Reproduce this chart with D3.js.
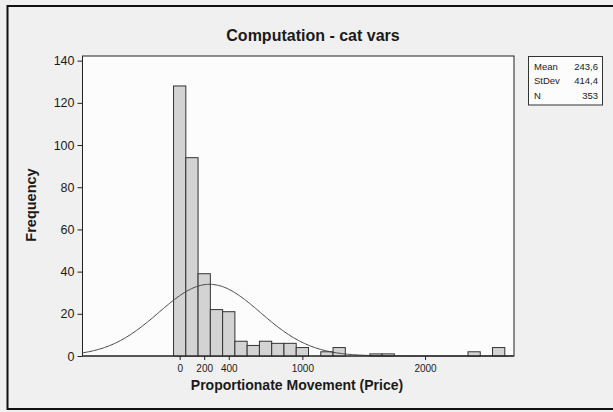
<!DOCTYPE html>
<html>
<head>
<meta charset="utf-8">
<script src="https://cdn.jsdelivr.net/npm/d3@7"></script>
<style>
  html, body { margin: 0; padding: 0; background: #f0f0f0; overflow: hidden; }
  svg { display: block; overflow: hidden; }
  text { font-family: "Liberation Sans", Arial, sans-serif; fill: #1a1a1a; }
</style>
</head>
<body>
<div id="chart"></div>
<script>
// histogram bins (midpoints, width 100) and counts
var binMids = [0, 100, 200, 300, 400, 500, 600, 700, 800, 900, 1000, 1200, 1300, 1600, 1700, 2400, 2600];
var counts  = [128, 94, 39, 22, 21, 7, 5, 7, 6, 6, 4, 2, 4, 1, 1, 2, 4];
var binWidth = 100;

var xTicks = [0, 200, 400, 1000, 2000];
var yTicks = [0, 20, 40, 60, 80, 100, 120, 140];

var statLabels = ["Mean", "StDev", "N"];
var statValues = ["243,6", "414,4", "353"];
var mean = 243.6, sd = 414.4, n = 353;

var W = 613, H = 412;
var plot = {left: 82.5, right: 514, top: 56, bottom: 356};

var svg = d3.select("#chart").append("svg")
  .attr("width", W)
  .attr("height", H);

// outer frame (right side runs past the edge)
svg.append("rect")
  .attr("x", 7.5).attr("y", 6)
  .attr("width", 640).attr("height", 403)
  .style("fill", "#f0f0f0")
  .style("stroke", "#111")
  .style("stroke-width", 2);

var x = d3.scaleLinear()
  .domain([-792, 2725])
  .range([plot.left, plot.right]);

var y = d3.scaleLinear()
  .domain([0, 142.2])
  .range([plot.bottom, plot.top]);

// plot area
svg.append("rect")
  .attr("x", plot.left).attr("y", plot.top)
  .attr("width", plot.right - plot.left)
  .attr("height", plot.bottom - plot.top)
  .style("fill", "#fcfcfc")
  .style("stroke", "#222")
  .style("stroke-width", 1);

var bins = binMids.map(function(m, i) { return {mid: m, count: counts[i]}; });

svg.append("g").selectAll("rect")
  .data(bins)
  .enter().append("rect")
  .attr("x", function(d) { return x(d.mid - binWidth / 2); })
  .attr("y", function(d) { return y(d.count); })
  .attr("width", function(d) { return x(d.mid + binWidth / 2) - x(d.mid - binWidth / 2); })
  .attr("height", function(d) { return y(0) - y(d.count); })
  .style("fill", "#d3d3d3")
  .style("stroke", "#333")
  .style("stroke-width", 1);

// fitted normal curve from the stats
var scaleK = n * binWidth / (sd * Math.sqrt(2 * Math.PI));
var xs = d3.range(x.domain()[0], x.domain()[1] + 1, 10);
var line = d3.line()
  .x(function(d) { return x(d); })
  .y(function(d) { return y(scaleK * Math.exp(-0.5 * Math.pow((d - mean) / sd, 2))); })
  .curve(d3.curveBasis);

svg.append("path")
  .datum(xs)
  .attr("d", line)
  .style("fill", "none")
  .style("stroke", "#444")
  .style("stroke-width", 1);

// axes
var yAxis = d3.axisLeft(y).tickValues(yTicks).tickSize(5).tickPadding(3);
var gy = svg.append("g")
  .attr("transform", "translate(" + plot.left + ",0)")
  .call(yAxis);
gy.select(".domain").remove();
gy.selectAll("line").style("stroke", "#222");
gy.selectAll("text").style("font-size", "12.5px").style("font-family", "Liberation Sans, Arial, sans-serif");

var xAxis = d3.axisBottom(x).tickValues(xTicks).tickSize(4).tickPadding(5).tickFormat(d3.format("d"));
var gx = svg.append("g")
  .attr("transform", "translate(0," + plot.bottom + ")")
  .call(xAxis);
gx.select(".domain").remove();
gx.selectAll("line").style("stroke", "#222");
gx.selectAll("text").style("font-size", "10px").style("font-family", "Liberation Sans, Arial, sans-serif");

// baseline
svg.append("line")
  .attr("x1", plot.left).attr("x2", plot.right)
  .attr("y1", plot.bottom).attr("y2", plot.bottom)
  .style("stroke", "#222");

// title and axis labels
svg.append("text")
  .attr("x", 313).attr("y", 41)
  .attr("text-anchor", "middle")
  .style("font-size", "16px")
  .style("font-weight", "bold")
  .text("Computation - cat vars");

svg.append("text")
  .attr("x", 297).attr("y", 390)
  .attr("text-anchor", "middle")
  .style("font-size", "14px")
  .style("font-weight", "bold")
  .text("Proportionate Movement (Price)");

svg.append("text")
  .attr("transform", "translate(36,205) rotate(-90)")
  .attr("text-anchor", "middle")
  .style("font-size", "14.5px")
  .style("font-weight", "bold")
  .text("Frequency");

// stats box
svg.append("rect")
  .attr("x", 528.5).attr("y", 56.5)
  .attr("width", 74).attr("height", 48.5)
  .style("fill", "#fcfcfc")
  .style("stroke", "#333");

var rows = svg.append("g").selectAll("g")
  .data(statLabels)
  .enter().append("g")
  .attr("transform", function(d, i) { return "translate(0," + (69.5 + i * 14.5) + ")"; });

rows.append("text")
  .attr("x", 534)
  .style("font-size", "9.5px")
  .text(function(d) { return d; });

rows.append("text")
  .attr("x", 598)
  .attr("text-anchor", "end")
  .style("font-size", "9.5px")
  .text(function(d, i) { return statValues[i]; });
</script>
</body>
</html>
